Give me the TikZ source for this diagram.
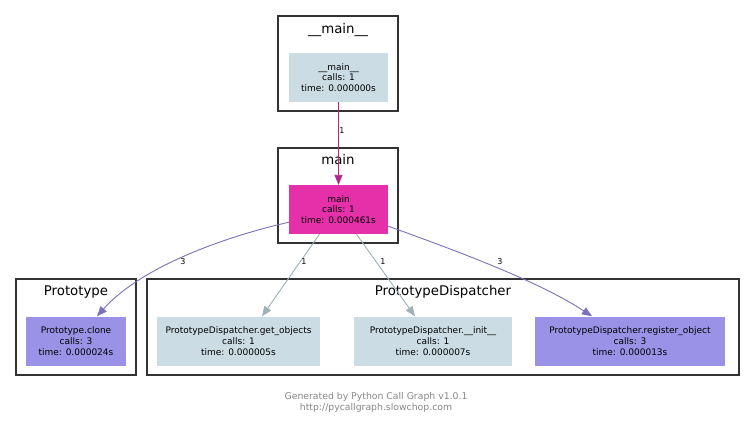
\documentclass[tikz,border=0pt]{standalone}
\usepackage{fontspec}
\setmainfont{DejaVu Sans}
\usetikzlibrary{arrows.meta,calc}
\definecolor{nodeblue}{RGB}{204,220,228}
\definecolor{nodemag}{RGB}{229,48,170}
\definecolor{nodepur}{RGB}{154,146,230}
\definecolor{edgemag}{RGB}{181,36,143}
\definecolor{edgepur}{RGB}{124,112,185}
\definecolor{edgegray}{RGB}{160,176,184}
\definecolor{clusterline}{RGB}{51,51,51}
\tikzset{
  cluster/.style={draw=clusterline,line width=2.8pt},
  ctitle/.style={font=\fontsize{13.3}{15}\selectfont,anchor=center},
  fn/.style={draw=none,minimum height=49pt,inner sep=0pt,align=center,
    font=\fontsize{9}{10.8}\selectfont},
  elabel/.style={font=\fontsize{8}{9}\selectfont,inner sep=0.5pt},
  arr/.style={-{Triangle[length=10pt,width=8pt]},line width=0.9pt},
}
\begin{document}
\begin{tikzpicture}[x=1pt,y=-1pt]
\useasboundingbox[fill=white] (0,0) rectangle (752,425);
% clusters
\draw[cluster] (278,16) rectangle (398,111);
\node[ctitle] (t1) at (338,30) {\_\_main\_\_};
\draw[cluster] (278,148) rectangle (398,243);
\node[ctitle] (t2) at (338,160) {main};
\draw[cluster] (16,279) rectangle (136,375);
\node[ctitle] (t3) at (76,292) {Prototype};
\draw[cluster] (147,279) rectangle (739,375);
\node[ctitle] (t4) at (443,292) {PrototypeDispatcher};
% nodes
\node[fn,fill=nodeblue,minimum width=99pt] (mm) at (338.5,77.5) {\_\_main\_\_\\calls: 1\\time: 0.000000s};
\node[fn,fill=nodemag,minimum width=99pt] (main) at (338.5,209.5) {main\\calls: 1\\time: 0.000461s};
\node[fn,fill=nodepur,minimum width=100pt] (clone) at (76,341) {Prototype.clone\\calls: 3\\time: 0.000024s};
\node[fn,fill=nodeblue,minimum width=163pt] (get) at (238.5,341) {PrototypeDispatcher.get\_objects\\calls: 1\\time: 0.000005s};
\node[fn,fill=nodeblue,minimum width=158pt] (init) at (433,341) {PrototypeDispatcher.\_\_init\_\_\\calls: 1\\time: 0.000007s};
\node[fn,fill=nodepur,minimum width=190pt] (reg) at (630,341) {PrototypeDispatcher.register\_object\\calls: 3\\time: 0.000013s};
% edges
\draw[arr,draw=edgemag] (mm.south) -- (main.north);
\node[elabel] (l0) at (342,131) {1};
\draw[arr,draw=edgepur] ($(main.south west)+(0,-12)$) .. controls (220,238) and (140,268) .. ($(clone.north)+(21,0)$);
\node[elabel] (l1) at (183,262) {3};
\draw[arr,draw=edgegray] ($(main.south)+(-19,0)$) -- ($(get.north)+(23.5,0)$);
\node[elabel] (l2) at (304,262) {1};
\draw[arr,draw=edgegray] ($(main.south)+(18,0)$) -- ($(init.north)+(-18,0)$);
\node[elabel] (l3) at (383,262) {1};
\draw[arr,draw=edgepur] ($(main.south east)+(0,-8)$) .. controls (460,252) and (540,282) .. ($(reg.north)+(-38,0)$);
\node[elabel] (l4) at (500,262) {3};
% footer
\node[font=\fontsize{9.3}{11}\selectfont,text=black!47,align=center] (foot) at (376,402.5) {Generated by Python Call Graph v1.0.1\\http://pycallgraph.slowchop.com};
\end{tikzpicture}
\end{document}
